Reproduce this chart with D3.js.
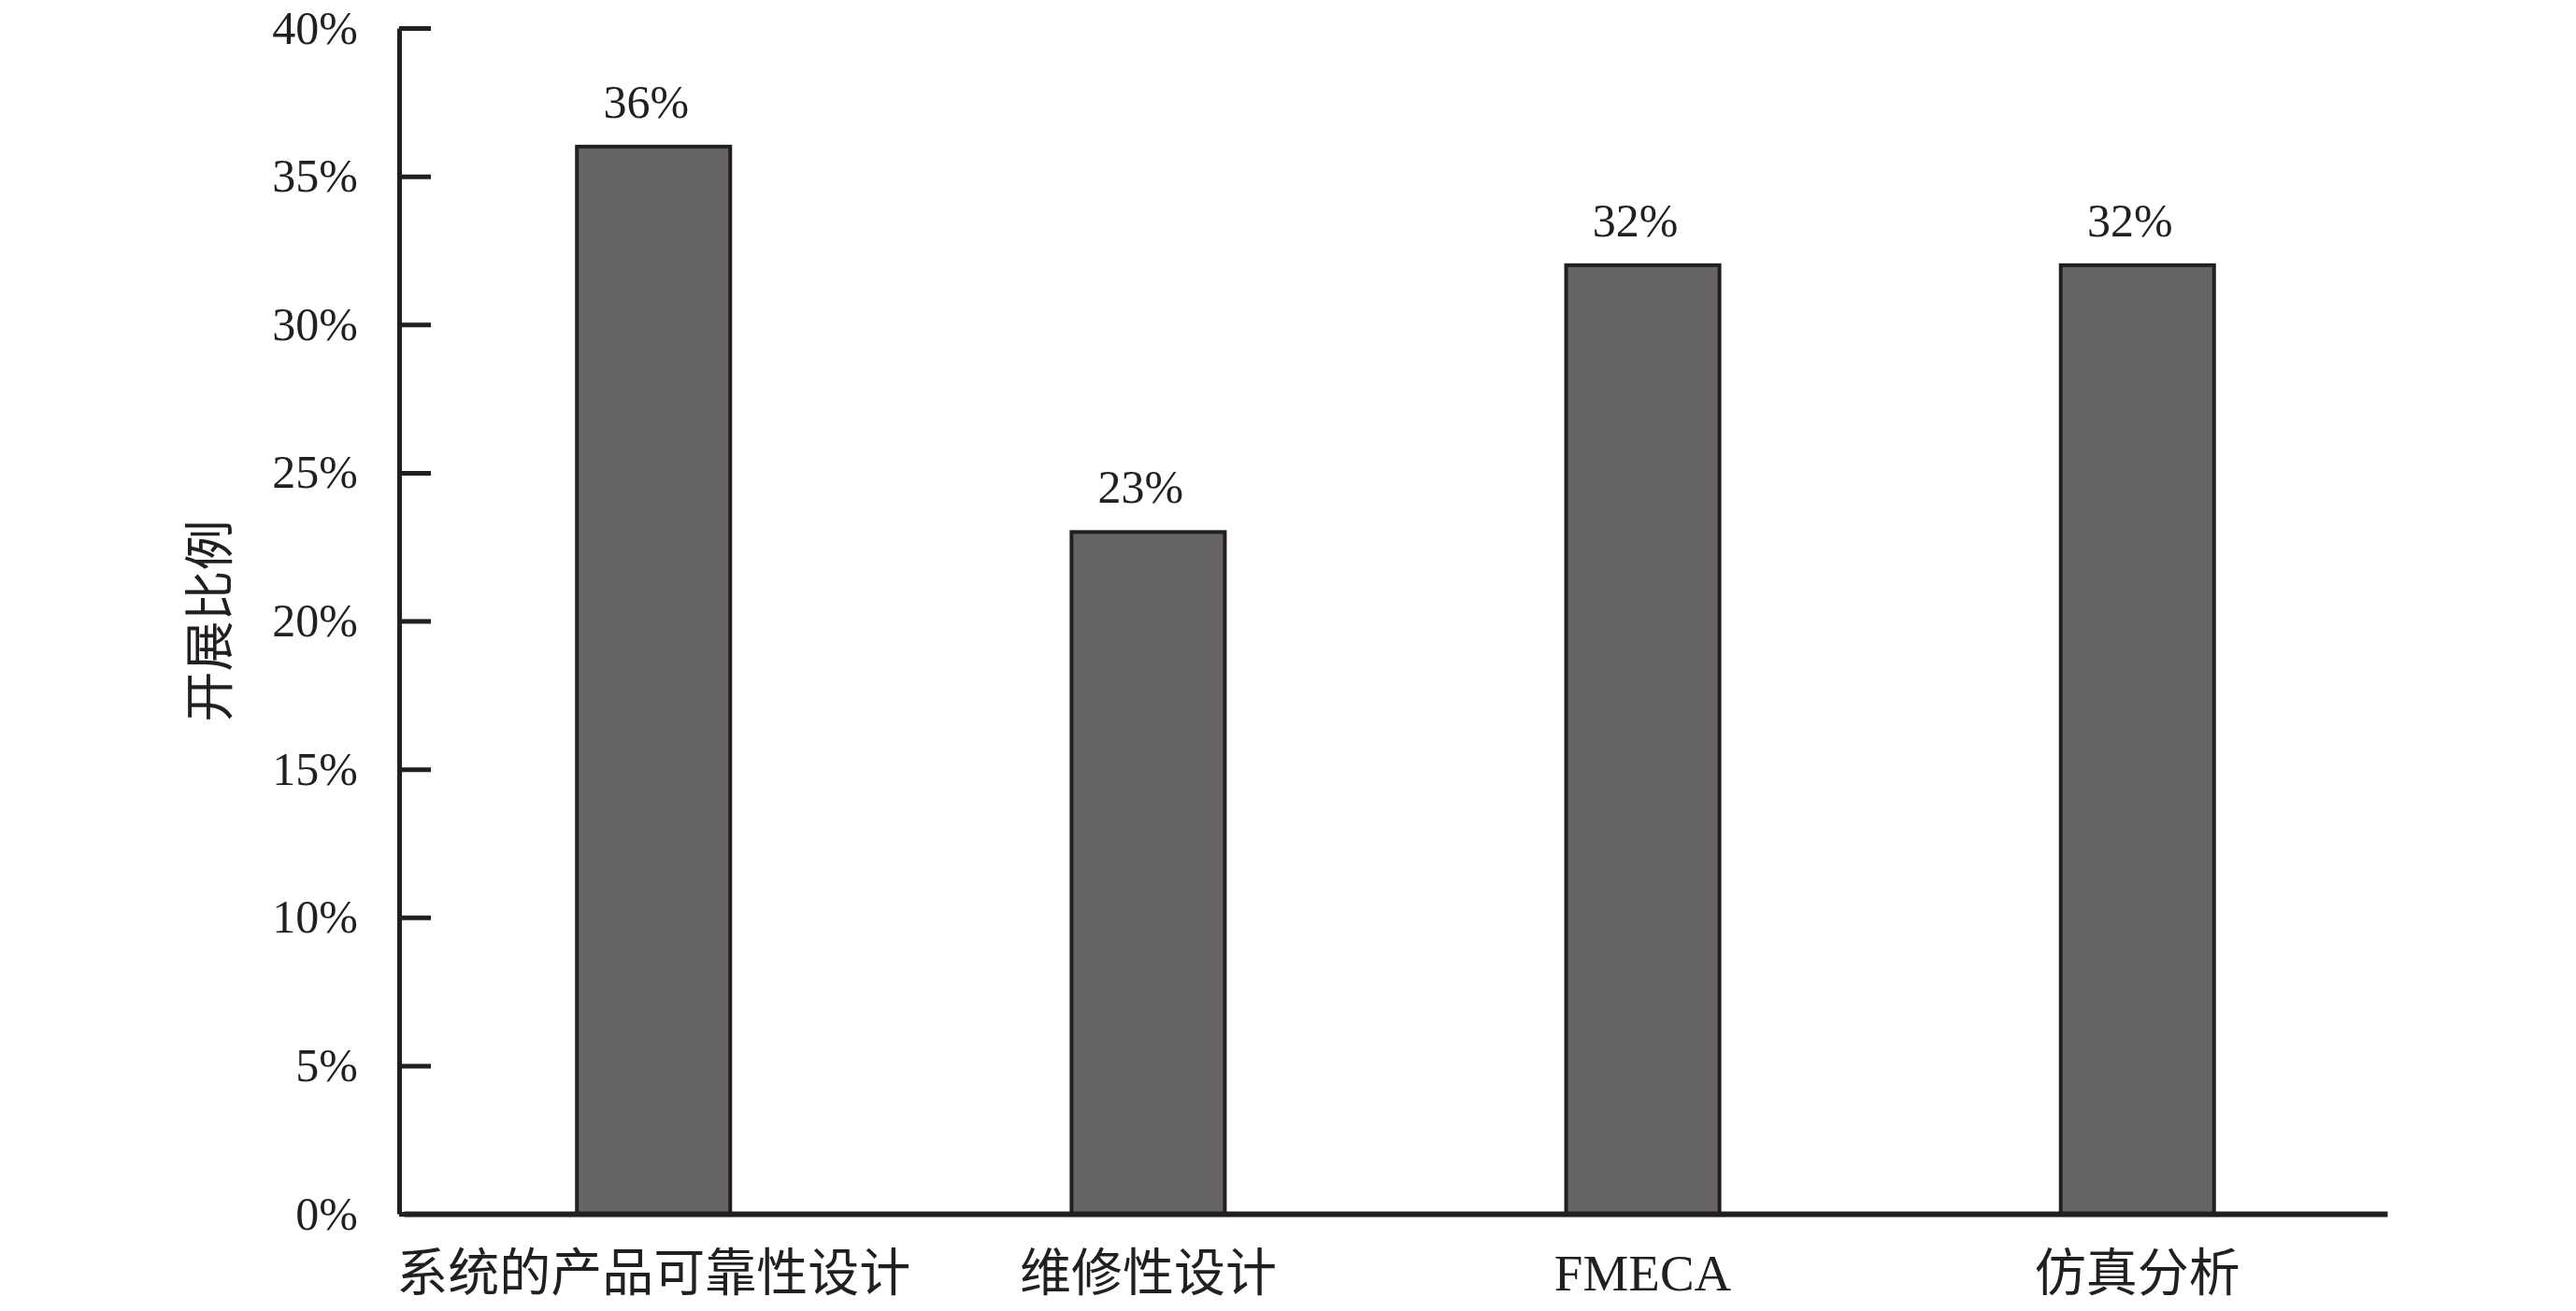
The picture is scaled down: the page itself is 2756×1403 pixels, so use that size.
<!DOCTYPE html>
<html><head><meta charset="utf-8">
<script src="https://cdn.jsdelivr.net/npm/d3@7"></script>
<style>
html,body{margin:0;padding:0;background:#fff;}
svg{display:block;}
</style></head>
<body>
<svg id="chart" width="2756" height="1403"></svg>
<script>
const categories = ["系统的产品可靠性设计", "维修性设计", "FMECA", "仿真分析"];
const values = [0.36, 0.23, 0.32, 0.32];
const valueLabels = ["36%", "23%", "32%", "32%"];
const yTicks = [0, 0.05, 0.10, 0.15, 0.20, 0.25, 0.30, 0.35, 0.40];
const yTitle = "开展比例";

(function () {
const svg = d3.select("#chart");
const mLeft = 427, mRight = 2549, mTop = 30, mBottom = 1299;
const ink = "#231f20";

const x = d3.scaleBand().domain(categories).range([mLeft + 5, mRight + 5])
  .paddingInner(0.69).paddingOuter(0.35);
const y = d3.scaleLinear().domain([0, 0.40]).range([mBottom, mTop]);

// bars
svg.append("g").selectAll("rect").data(categories).join("rect")
  .attr("x", d => x(d))
  .attr("y", (d, i) => y(values[i]))
  .attr("width", x.bandwidth())
  .attr("height", (d, i) => y(0) - y(values[i]))
  .attr("fill", "#666465")
  .attr("stroke", ink)
  .attr("stroke-width", 4);

// value labels
svg.append("g").selectAll("text").data(categories).join("text")
  .attr("x", d => x(d) + x.bandwidth() / 2 - 8)
  .attr("y", (d, i) => y(values[i]) - 31)
  .attr("text-anchor", "middle")
  .attr("font-family", "'Liberation Serif', 'Times New Roman', serif")
  .attr("font-size", 50)
  .attr("fill", ink)
  .text((d, i) => valueLabels[i]);

// y axis
const yAxis = d3.axisLeft(y).tickValues(yTicks)
  .tickFormat(d3.format(".0%"))
  .tickSizeInner(-34).tickSizeOuter(0).tickPadding(44);
const gy = svg.append("g").attr("transform", `translate(${mLeft},0)`).call(yAxis);
gy.select(".domain").attr("stroke", ink).attr("stroke-width", 5);
gy.selectAll(".tick line").attr("stroke", ink).attr("stroke-width", 5);
gy.selectAll(".tick text")
  .attr("font-family", "'Liberation Serif', 'Times New Roman', serif")
  .attr("font-size", 50).attr("fill", ink);

// x axis
const xAxis = d3.axisBottom(x).tickSize(0).tickSizeOuter(0);
const gx = svg.append("g").attr("transform", `translate(0,${mBottom})`).call(xAxis);
gx.select(".domain").attr("stroke", ink).attr("stroke-width", 6);
gx.selectAll(".tick text")
  .attr("y", 63).attr("dy", "0.35em")
  .attr("font-family", "'Liberation Serif', 'Noto Sans CJK SC', serif")
  .attr("font-size", 55).attr("fill", ink);

// y title
svg.append("text")
  .attr("transform", `translate(225,${(mTop + mBottom) / 2}) rotate(-90)`)
  .attr("text-anchor", "middle").attr("dy", "0.35em")
  .attr("font-family", "'Noto Sans CJK SC', sans-serif")
  .attr("font-size", 54).attr("fill", ink)
  .text(yTitle);
})();
</script>
</body></html>
